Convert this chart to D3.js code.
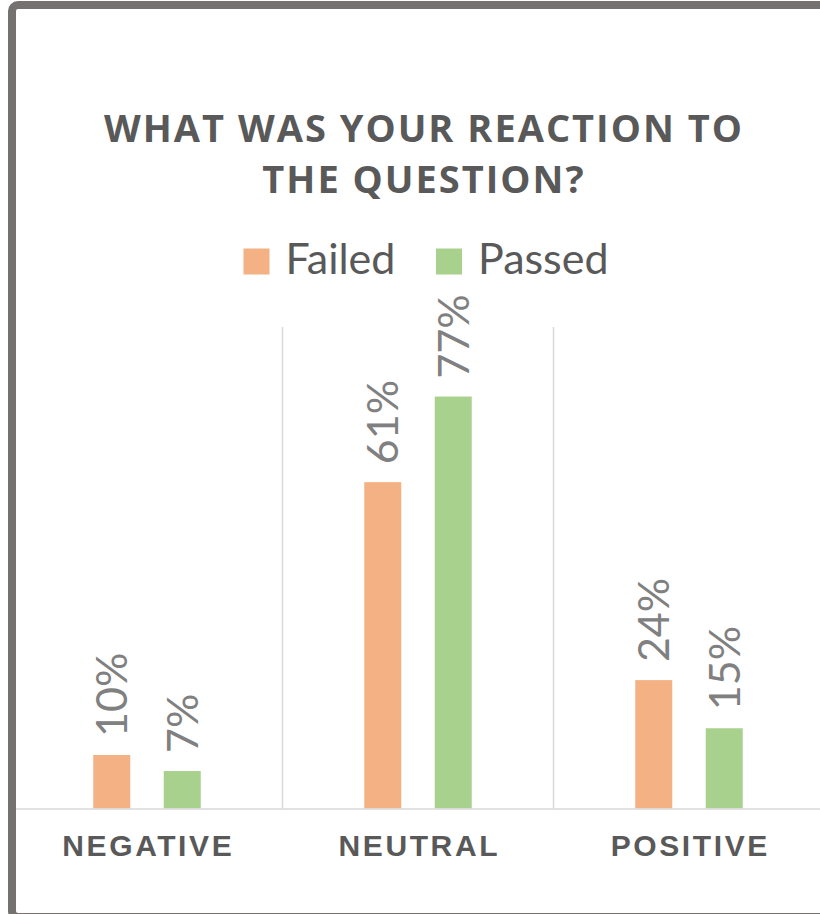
<!DOCTYPE html>
<html>
<head>
<meta charset="utf-8">
<script src="https://cdn.jsdelivr.net/npm/d3@7"></script>
<style>
  html, body { margin: 0; padding: 0; background: #fff; }
  svg { display: block; }
</style>
</head>
<body>
<svg id="chart" width="820" height="914"></svg>
<script>
// Survey results: reaction to the question, split by outcome
const categories = ["NEGATIVE", "NEUTRAL", "POSITIVE"];
const seriesNames = ["Failed", "Passed"];
const failedValues = [0.10, 0.61, 0.24];
const passedValues = [0.07, 0.77, 0.15];
const titleLines = ["WHAT WAS YOUR REACTION TO", "THE QUESTION?"];

const colors = { Failed: "#F4B183", Passed: "#A9D18E" };
const valuesBySeries = { Failed: failedValues, Passed: passedValues };

const svg = d3.select("#chart");

// Background
svg.append("rect")
  .attr("width", 820).attr("height", 914)
  .attr("fill", "#fff");

// Plot area
const plot = { left: 11.5, right: 824.5, top: 327, bottom: 808.5 };

const x0 = d3.scaleBand()
  .domain(categories)
  .range([plot.left, plot.right])
  .padding(0);

const x1 = d3.scaleBand()
  .domain(seriesNames)
  .range([0, x0.bandwidth()])
  .paddingInner(0.475)
  .paddingOuter(1.16);

const y = d3.scaleLinear()
  .domain([0, 0.9])
  .range([plot.bottom, plot.top]);

// Vertical separators between categories
const bounds = categories.map(c => x0(c)).concat([plot.right]);
svg.append("g")
  .selectAll("line")
  .data(bounds)
  .join("line")
  .attr("x1", d => d).attr("x2", d => d)
  .attr("y1", plot.top).attr("y2", plot.bottom)
  .attr("stroke", "#d9d9d9")
  .attr("stroke-width", 1.5);

// Bars
const rows = categories.flatMap((c, i) =>
  seriesNames.map(s => ({ cat: c, series: s, value: valuesBySeries[s][i] })));

svg.append("g")
  .selectAll("rect")
  .data(rows)
  .join("rect")
  .attr("x", d => x0(d.cat) + x1(d.series))
  .attr("y", d => y(d.value))
  .attr("width", x1.bandwidth())
  .attr("height", d => y(0) - y(d.value))
  .attr("fill", d => colors[d.series]);

// Value labels, rotated
const fmt = d3.format(".0%");
svg.append("g")
  .selectAll("text")
  .data(rows)
  .join("text")
  .attr("transform", d => {
    const cx = x0(d.cat) + x1(d.series) + x1.bandwidth() / 2;
    return `translate(${cx},${y(d.value) - 18}) rotate(-90)`;
  })
  .attr("dy", "0.36em")
  .attr("text-anchor", "start")
  .attr("font-family", "Lato, 'Open Sans', sans-serif")
  .attr("font-size", 43)
  .attr("fill", "#808080")
  .text(d => fmt(d.value));

// Baseline axis
const xAxis = d3.axisBottom(x0).tickSize(0).tickPadding(0);
const axisG = svg.append("g")
  .attr("transform", `translate(0,${plot.bottom})`)
  .call(xAxis);
axisG.select(".domain")
  .attr("stroke", "#d9d9d9")
  .attr("stroke-width", 1.5);
axisG.selectAll(".tick text")
  .attr("y", 47.5)
  .attr("dy", 0)
  .attr("dx", 1.3)
  .attr("font-family", "'Liberation Sans', Arial, sans-serif")
  .attr("font-weight", "bold")
  .attr("font-size", 30)
  .attr("letter-spacing", 2.6)
  .attr("fill", "#595959");

// Title
svg.append("g")
  .selectAll("text")
  .data(titleLines)
  .join("text")
  .attr("x", 424)
  .attr("y", (d, i) => 141.7 + i * 51.6)
  .attr("text-anchor", "middle")
  .attr("font-family", "'Open Sans', sans-serif")
  .attr("font-weight", "bold")
  .attr("font-size", 38)
  .attr("letter-spacing", 2)
  .attr("fill", "#595959")
  .text(d => d);

// Legend
const legendX = [243.5, 436];
const legend = svg.append("g")
  .selectAll("g")
  .data(seriesNames)
  .join("g")
  .attr("transform", (d, i) => `translate(${legendX[i]},248.5)`);
legend.append("rect")
  .attr("width", 26).attr("height", 26)
  .attr("fill", d => colors[d]);
legend.append("text")
  .attr("x", 42)
  .attr("y", 25.8)
  .attr("font-family", "Lato, 'Open Sans', sans-serif")
  .attr("font-size", 43)
  .attr("fill", "#595959")
  .text(d => d);

// Chart frame, drawn over the plot edges
svg.append("rect")
  .attr("x", 12).attr("y", 5)
  .attr("width", 900).attr("height", 912)
  .attr("rx", 6)
  .attr("fill", "none")
  .attr("stroke", "#767171")
  .attr("stroke-width", 8);
</script>
</body>
</html>
